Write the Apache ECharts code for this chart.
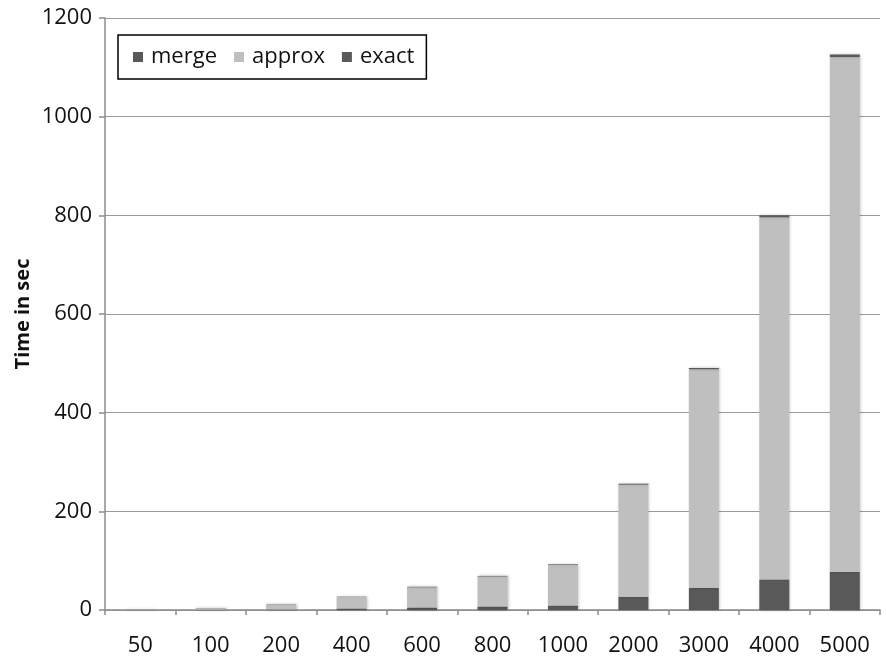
<!DOCTYPE html>
<html lang="en">
<head>
    <meta charset="UTF-8">
    <title>Time in sec</title>
    <script src="https://cdn.jsdelivr.net/npm/echarts@6/dist/echarts.min.js"></script>
    <style>
        html, body {margin: 0; padding: 0; background: #fff;}
        #chart {width: 886px; height: 659px;}
    </style>
</head>
<body>
<div id="chart"></div>
<script>
    var categories = ['50', '100', '200', '400', '600', '800', '1000', '2000', '3000', '4000', '5000'];
    var exactVals  = [0.3, 0.5, 1, 3, 5, 7, 9, 27, 45, 62, 77];
    var approxVals = [1.4, 3.2, 10.5, 23.5, 41, 61, 83, 227, 443, 734, 1044];
    var mergeVals  = [0.2, 0.3, 0.4, 0.6, 1, 1, 1.2, 2, 2.5, 4, 5];
    var yTicks = {min: 0, max: 1200, interval: 200};

    var dark = '#595959';
    var light = '#bfbfbf';
    var axisGray = '#8c8c8c';
    var fontName = 'Open Sans';

    var chart = echarts.init(document.getElementById('chart'));

    function barSeries(name, data, color) {
        return {
            name: name,
            type: 'bar',
            stack: 'total',
            barWidth: 30,
            itemStyle: {
                color: color,
                shadowBlur: 3,
                shadowColor: 'rgba(0,0,0,0.25)',
                shadowOffsetX: 1,
                shadowOffsetY: 0
            },
            data: data
        };
    }

    var option = {
        backgroundColor: '#fff',
        animation: false,
        textStyle: {fontFamily: fontName},
        grid: {left: 105, right: 6, top: 18, bottom: 49},
        legend: {
            data: ['merge', 'approx', 'exact'],
            left: 118,
            top: 35,
            icon: 'rect',
            itemWidth: 10,
            itemHeight: 10,
            itemGap: 17,
            padding: [11, 12, 11, 15],
            borderColor: '#000',
            borderWidth: 1.5,
            textStyle: {fontSize: 22, color: '#111', fontFamily: fontName, padding: [0, 0, 0, 3]}
        },
        xAxis: {
            type: 'category',
            data: categories,
            axisLine: {lineStyle: {color: axisGray, width: 1.5}},
            axisTick: {show: true, length: 5, lineStyle: {color: axisGray, width: 1.5}},
            axisLabel: {fontSize: 22, color: '#111', margin: 25, fontFamily: fontName}
        },
        yAxis: {
            type: 'value',
            min: yTicks.min,
            max: yTicks.max,
            interval: yTicks.interval,
            name: 'Time in sec',
            nameLocation: 'middle',
            nameGap: 72,
            nameMoveOverlap: false,
            nameRotate: 90,
            nameTextStyle: {fontSize: 20, fontWeight: 'bold', color: '#111', fontFamily: fontName},
            axisLine: {show: true, lineStyle: {color: axisGray, width: 1.5}},
            axisTick: {show: true, length: 6, lineStyle: {color: axisGray, width: 1.5}},
            axisLabel: {
                fontSize: 22, color: '#111', margin: 13, fontFamily: fontName,
                formatter: function (v) { return String(v); }
            },
            splitLine: {show: true, lineStyle: {color: '#9a9a9a', width: 1.2}}
        },
        series: [
            barSeries('exact', exactVals, dark),
            barSeries('approx', approxVals, light),
            barSeries('merge', mergeVals, dark)
        ]
    };
    chart.setOption(option);
</script>
</body>
</html>
